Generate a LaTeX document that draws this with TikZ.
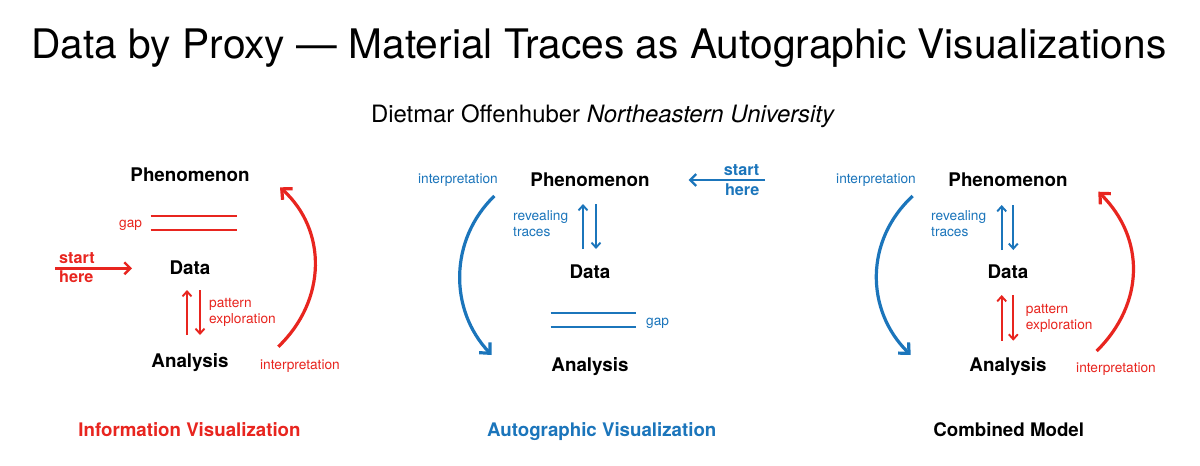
\documentclass[tikz,border=0pt]{standalone}
\usepackage{fontspec}
\setmainfont{TeX Gyre Heros}
\usetikzlibrary{arrows.meta}
\definecolor{ivred}{RGB}{232,37,31}
\definecolor{avblue}{RGB}{27,117,187}

\begin{document}
\begin{tikzpicture}[x=1pt,y=-1pt,stage/.style={font=\fontsize{18.8}{22}\selectfont\bfseries,inner sep=0pt,text depth=0pt},note/.style={font=\fontsize{13.7}{16.3}\selectfont,inner sep=0pt,align=left,anchor=base west},startnote/.style={font=\fontsize{16.2}{19.7}\selectfont\bfseries,inner sep=0pt},pair/.style={-{Straight Barb[length=5pt,width=9pt]},line width=1.9pt},interp/.style={-{Straight Barb[length=8pt,width=15pt]},line width=3.2pt},startarrow/.style={-{Straight Barb[length=6pt,width=12pt]},line width=2.4pt},gapline/.style={line width=2pt},model/.style={font=\fontsize{18.7}{22}\selectfont\bfseries,inner sep=0pt,anchor=base}]

\fill[white] (0,0) rectangle (1200,466);
\useasboundingbox (0,0) rectangle (1200,466);

\node[font=\fontsize{40.7}{48}\selectfont,inner sep=0pt,anchor=base] (title) at(599,58) {Data by Proxy — Material Traces as Autographic Visualizations};
\node[font=\fontsize{23.9}{28}\selectfont,inner sep=0pt,anchor=base] (author) at(603,122) {Dietmar Offenhuber \textit{Northeastern University}};

% information visualization
\node[stage] (phe1) at(190,175) {Phenomenon};
\node[stage] (dat1) at(190,267.5) {Data};
\node[stage] (ana1) at(190,360) {Analysis};
\draw[gapline,ivred] (150.7,215.7) -- (236.7,215.7);
\draw[gapline,ivred] (150.7,230) -- (236.7,230);
\node[note,text=ivred] (gap1) at(119,227) {gap};
\node[startnote,text=ivred,align=left,anchor=base west] (start1) at(59,282.7) {start\\here};
\coordinate (st1) at(55,268.3);
\draw[startarrow,ivred] (st1) -- ([shift={(-58,0.8)}]dat1.center);
\draw[pair,ivred] ([shift={(-3,-25)}]ana1.center) -- ([shift={(-3,22.5)}]dat1.center);
\draw[pair,ivred] ([shift={(10,22.5)}]dat1.center) -- ([shift={(10,-25)}]ana1.center);
\node[note,text=ivred] (pat1) at(209,323.3) {pattern\\exploration};
\draw[interp,ivred] ([shift={(88.3,-13.3)}]ana1.center) .. controls (327,300) and (327,230) .. ([shift={(90,12.3)}]phe1.center);
\node[note,text=ivred] (int1) at(260,369.5) {interpretation};
\node[model,text=ivred] (lab1) at(189.5,436) {Information Visualization};

% autographic visualization
\node[stage] (phe2) at(590,180) {Phenomenon};
\node[stage] (dat2) at(590,271.5) {Data};
\node[stage] (ana2) at(590,364) {Analysis};
\node[startnote,text=avblue,align=right,anchor=base east] (start2) at(759.5,195.5) {start\\here};
\coordinate (st2) at(765,180);
\draw[startarrow,avblue] (st2) -- ([shift={(98.5,0)}]phe2.center);
\draw[pair,avblue] ([shift={(-7,-22.5)}]dat2.center) -- ([shift={(-7,24)}]phe2.center);
\draw[pair,avblue] ([shift={(6,24)}]phe2.center) -- ([shift={(6,-22.5)}]dat2.center);
\node[note,text=avblue] (rev2) at(513,236.3) {revealing\\traces};
\draw[gapline,avblue] (550.7,313.3) -- (636,313.3);
\draw[gapline,avblue] (550.7,327.3) -- (636,327.3);
\node[note,text=avblue] (gap2) at(646,325) {gap};
\draw[interp,avblue] ([shift={(-95.7,16)}]phe2.center) .. controls (449,240) and (449,310) .. ([shift={(-98.3,-9)}]ana2.center);
\node[note,text=avblue] (int2) at(418,183.3) {interpretation};
\node[model,text=avblue] (lab2) at(601.7,436) {Autographic Visualization};

% combined model
\node[stage] (phe3) at(1008,180) {Phenomenon};
\node[stage] (dat3) at(1008,272) {Data};
\node[stage] (ana3) at(1008,364) {Analysis};
\draw[pair,avblue] ([shift={(-6.3,-22)}]dat3.center) -- ([shift={(-6.3,25)}]phe3.center);
\draw[pair,avblue] ([shift={(5.3,25)}]phe3.center) -- ([shift={(5.3,-22)}]dat3.center);
\node[note,text=avblue] (rev3) at(931,236.3) {revealing\\traces};
\draw[pair,ivred] ([shift={(-6.3,-23.3)}]ana3.center) -- ([shift={(-6.3,23)}]dat3.center);
\draw[pair,ivred] ([shift={(5.3,23)}]dat3.center) -- ([shift={(5.3,-23.3)}]ana3.center);
\node[note,text=ivred] (pat3) at(1025.7,329.6) {pattern\\exploration};
\draw[interp,avblue] ([shift={(-95.3,16)}]phe3.center) .. controls (865,240) and (865,310) .. ([shift={(-97.3,-9)}]ana3.center);
\node[note,text=avblue] (int3) at(836,183.3) {interpretation};
\draw[interp,ivred] ([shift={(88.7,-13)}]ana3.center) .. controls (1145,303) and (1145,238) .. ([shift={(90.3,11.7)}]phe3.center);
\node[note,text=ivred] (int4) at(1076,372.7) {interpretation};
\node[model] (lab3) at(1008.7,436) {Combined Model};
\end{tikzpicture}
\end{document}
